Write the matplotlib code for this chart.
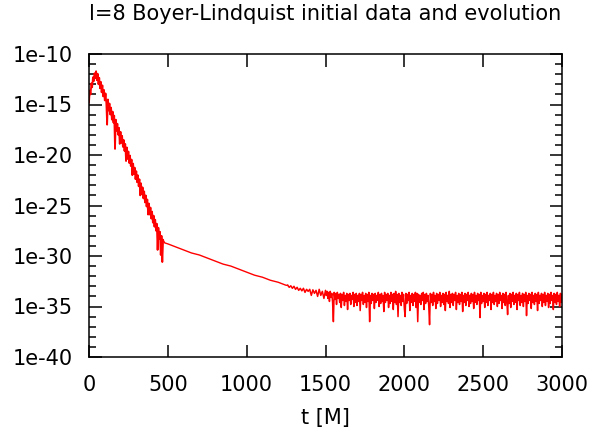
import numpy as np
import matplotlib.pyplot as plt
from matplotlib.ticker import FixedLocator, NullFormatter

plt.rcParams['font.family'] = ['DejaVu Sans']

# early ringdown, t = 0 .. 470 every 5 (log10 of amplitude)
t_early = list(range(0, 475, 5))
log_early = [
    -14.8, -13.6, -14.0, -12.9, -13.3, -12.3, -12.7, -11.9, -12.4, -11.7,
    -12.6, -11.95, -13.0, -12.35, -13.4, -12.75, -13.8, -13.1, -14.2, -13.55,
    -14.6, -13.9, -14.9, -17.0, -14.5, -15.6, -14.9, -16.0, -15.3, -16.5,
    -15.7, -16.8, -16.1, -19.4, -16.5, -17.6, -16.9, -18.0, -17.3, -18.9,
    -17.7, -18.8, -18.1, -19.2, -18.5, -19.6, -18.9, -20.6, -19.25, -20.4,
    -19.65, -20.8, -20.05, -21.1, -20.45, -22.0, -20.85, -21.9, -21.25, -22.4,
    -21.6, -22.7, -22.0, -23.1, -22.4, -24.0, -22.8, -23.9, -23.2, -24.3,
    -23.6, -24.7, -24.0, -25.1, -24.4, -25.9, -24.8, -25.9, -25.2, -26.3,
    -25.6, -26.7, -26.0, -27.1, -26.4, -27.5, -26.8, -29.4, -27.2, -28.3,
    -27.6, -29.9, -28.0, -30.6, -28.4,
]

# smooth power-law tail
t_tail = [470, 480, 500, 550, 600, 650, 700, 750, 800, 850, 900, 950,
          1000, 1050, 1100, 1150, 1200, 1250, 1260]
log_tail = [-28.4, -28.7, -28.8, -29.1, -29.4, -29.7, -29.9, -30.2, -30.5,
            -30.8, -31.0, -31.3, -31.6, -31.9, -32.1, -32.4, -32.6, -32.9,
            -32.9]

# round-off noise floor: t = 1260 .. 1500 every 10, then 1505 .. 3000 every 5
t_noise = list(range(1260, 1510, 10)) + list(range(1505, 3005, 5))
log_noise = [
    -32.9, -33.1, -32.95, -33.2, -33.0, -33.3, -33.1, -33.4, -33.2, -33.45,
    -33.2, -33.6, -33.3, -33.5, -33.3, -33.9, -33.35, -33.7, -33.4, -34.0,
    -33.3, -33.9, -33.5, -34.2, -33.4,
    # 1505 .. 3000
    -33.9, -33.5, -34.2, -33.6, -34.5, -33.5, -34.1, -33.7, -34.6, -36.5,
    -33.6, -34.3, -33.7, -34.8, -33.6, -34.2, -33.8, -34.6, -33.7, -35.1,
    -33.8, -34.4, -33.6, -34.9, -33.9, -34.5, -33.7, -35.3, -33.8, -34.4,
    -33.7, -34.8, -33.9, -34.3, -33.6, -35.0, -33.8, -34.6, -33.7, -34.9,
    -33.9, -34.5, -33.7, -35.4, -33.8, -34.4, -33.6, -34.8, -33.9, -34.6,
    -33.7, -35.1, -33.8, -34.5, -33.6, -36.5, -33.9, -34.7, -33.7, -34.4,
    -33.8, -35.2, -33.7, -34.6, -33.9, -34.4, -33.6, -35.0, -33.8, -34.7,
    -33.7, -34.5, -33.9, -35.5, -33.6, -34.6, -33.8, -34.4, -33.7, -35.1,
    -33.9, -34.7, -33.6, -34.5, -33.8, -35.3, -33.7, -34.6, -33.5, -34.8,
    -33.8, -36.0, -33.7, -34.6, -33.9, -34.9, -33.6, -34.5, -33.8, -35.2,
    -36.0, -33.7, -34.7, -33.8, -34.4, -33.6, -35.4, -33.9, -34.6, -33.7,
    -34.9, -33.8, -34.5, -33.6, -35.1, -33.7, -36.5, -33.8, -34.6, -33.9,
    -34.8, -33.7, -34.4, -33.6, -35.3, -33.8, -34.7, -33.7, -34.5, -33.9,
    -35.0, -36.8, -33.7, -34.6, -33.8, -34.9, -33.6, -34.5, -33.9, -35.2,
    -33.7, -34.7, -33.8, -34.4, -33.6, -35.0, -33.9, -34.6, -33.7, -34.8,
    -33.8, -35.4, -33.6, -34.5, -33.9, -34.7, -33.5, -35.1, -33.8, -34.6,
    -33.7, -34.9, -33.8, -34.4, -33.6, -35.3, -33.9, -34.6, -33.7, -34.8,
    -33.8, -34.5, -33.6, -35.5, -33.9, -34.6, -33.7, -34.9, -33.8, -34.4,
    -33.6, -35.0, -33.9, -34.7, -33.7, -34.5, -33.8, -35.2, -33.6, -34.6,
    -33.9, -34.8, -33.7, -34.4, -33.8, -36.1, -33.6, -34.7, -33.9, -34.5,
    -33.7, -35.1, -33.8, -34.6, -33.6, -34.9, -33.9, -34.4, -33.7, -35.3,
    -33.8, -34.6, -33.6, -34.8, -33.9, -34.5, -33.7, -35.0, -33.8, -34.7,
    -33.6, -34.4, -33.9, -35.2, -33.7, -34.6, -33.8, -34.9, -33.6, -34.5,
    -35.8, -33.9, -34.7, -33.7, -35.1, -33.8, -34.5, -33.6, -34.8, -33.9,
    -34.6, -33.7, -35.3, -33.8, -34.4, -33.6, -34.9, -33.9, -34.6, -33.7,
    -35.0, -33.8, -34.5, -33.6, -35.9, -33.9, -34.7, -33.7, -34.4, -33.8,
    -35.2, -33.6, -34.6, -33.9, -34.8, -33.7, -34.5, -33.8, -35.4, -33.6,
    -34.7, -33.9, -34.4, -33.7, -35.0, -33.8, -34.6, -33.6, -34.9, -33.9,
    -34.5, -33.7, -35.1, -33.8, -34.7, -33.6, -34.4, -33.9, -35.3, -33.7,
    -34.6, -33.8, -34.8, -33.6, -34.5, -33.9, -35.0, -33.7, -34.6, -33.8,
]

x_ticks = [0, 500, 1000, 1500, 2000, 2500, 3000]
y_ticks = [1e-40, 1e-35, 1e-30, 1e-25, 1e-20, 1e-15, 1e-10]
y_labels = ['1e-40', '1e-35', '1e-30', '1e-25', '1e-20', '1e-15', '1e-10']

fig = plt.figure(figsize=(5.94, 4.37), dpi=100)
ax = fig.add_axes([89 / 594, 80 / 437, 473 / 594, 303 / 437])

ax.plot(t_tail, 10.0 ** np.array(log_tail), color='red', linewidth=1.0)
ax.plot(t_early, 10.0 ** np.array(log_early), color='red', linewidth=1.3)
ax.plot(t_noise, 10.0 ** np.array(log_noise), color='red', linewidth=1.1)

ax.set_yscale('log')
ax.set_xlim(0, 3000)
ax.set_ylim(1e-40, 1e-10)
ax.set_xticks(x_ticks)
ax.set_xticklabels([str(v) for v in x_ticks])
ax.set_yticks(y_ticks)
ax.set_yticklabels(y_labels)
ax.yaxis.set_minor_locator(FixedLocator([10.0 ** k for k in range(-40, -9)]))
ax.yaxis.set_minor_formatter(NullFormatter())

ax.tick_params(axis='both', which='major', direction='in', length=9, width=1.1,
               top=True, right=True, labelsize=15, pad=12)
ax.tick_params(axis='x', which='major', pad=13)
ax.tick_params(axis='y', which='minor', direction='in', length=5, width=1.1,
               left=True, right=True)
for s in ax.spines.values():
    s.set_linewidth(1.1)

ax.set_xlabel('t [M]', fontsize=15, labelpad=9)
fig.text(325.5 / 594, 417 / 437, 'l=8 Boyer-Lindquist initial data and evolution',
         ha='center', va='baseline', fontsize=15)

fig.savefig('out.png', dpi=100)
